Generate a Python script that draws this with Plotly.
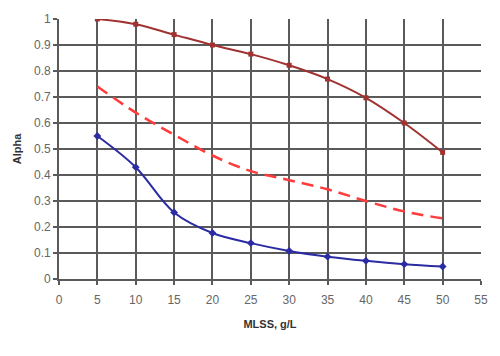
import plotly.graph_objects as go

mlss = [5, 10, 15, 20, 25, 30, 35, 40, 45, 50]
alpha_upper = [1.0, 0.98, 0.94, 0.90, 0.865, 0.822, 0.769, 0.697, 0.60, 0.487]
alpha_mid = [0.74, 0.64, 0.555, 0.475, 0.415, 0.38, 0.345, 0.30, 0.26, 0.233]
alpha_lower = [0.55, 0.43, 0.256, 0.177, 0.138, 0.108, 0.086, 0.07, 0.057, 0.048]

x_ticks = [0, 5, 10, 15, 20, 25, 30, 35, 40, 45, 50, 55]
y_ticks = [0, 0.1, 0.2, 0.3, 0.4, 0.5, 0.6, 0.7, 0.8, 0.9, 1]

fig = go.Figure()
fig.add_trace(go.Scatter(x=mlss, y=alpha_upper, mode="lines+markers",
                         line=dict(color="#A13232", width=2, shape="spline"),
                         marker=dict(symbol="square", size=5, color="#A13232")))
fig.add_trace(go.Scatter(x=mlss, y=alpha_mid, mode="lines",
                         line=dict(color="#FF3B3B", width=2.5, dash="12px,7px", shape="spline")))
fig.add_trace(go.Scatter(x=mlss, y=alpha_lower, mode="lines+markers",
                         line=dict(color="#2B2BA3", width=2, shape="spline"),
                         marker=dict(symbol="diamond", size=6, color="#2B2BA3")))

axis_common = dict(showgrid=True, gridcolor="#5a5a5a", gridwidth=1.6,
                   zeroline=False, showline=True, linecolor="#5a5a5a", linewidth=1.6,
                   ticks="outside", ticklen=4, tickcolor="#5a5a5a", tickwidth=1.5,
                   tickfont=dict(family="Liberation Sans, Arial", size=12, color="#666666"))

fig.update_layout(
    width=500, height=356,
    margin=dict(l=59, r=14, t=15, b=77),
    paper_bgcolor="white", plot_bgcolor="white",
    showlegend=False,
    xaxis=dict(range=[0, 55], tickvals=x_ticks, ticklabelstandoff=5, **axis_common,
               title=dict(text="<b>MLSS, g/L</b>", standoff=14,
                          font=dict(family="Liberation Sans, Arial", size=11, color="#333333"))),
    yaxis=dict(range=[0, 1], tickvals=y_ticks, **axis_common,
               title=dict(text="<b>Alpha</b>", standoff=10,
                          font=dict(family="Liberation Sans, Arial", size=11, color="#333333"))),
)

fig.write_html("out.html")
